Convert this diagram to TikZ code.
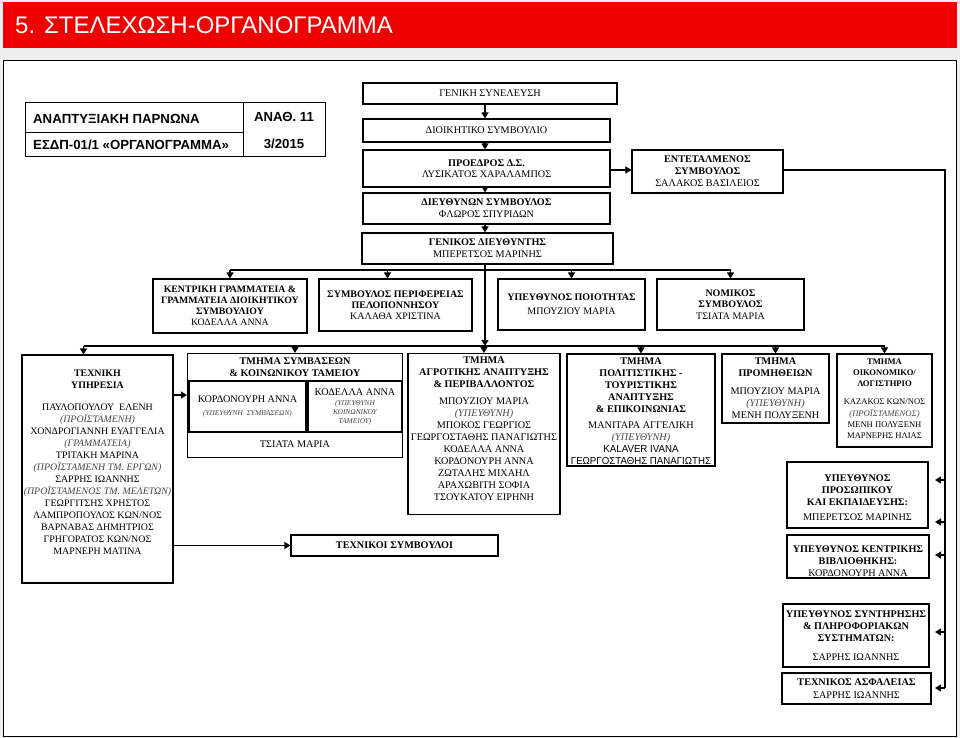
\documentclass[tikz,border=0pt]{standalone}
\usepackage{fontspec}
\setmainfont{Liberation Serif}
\setsansfont{Liberation Sans}
\usetikzlibrary{positioning,arrows.meta}

\definecolor{titlered}{RGB}{238,0,0}
\definecolor{stripgray}{RGB}{238,238,238}
\definecolor{rolegray}{RGB}{70,70,70}

\newcommand{\rl}[1]{{\itshape\color{rolegray}#1}}
\newcommand{\rlsmall}[1]{{\fontsize{7.4}{9}\selectfont\itshape\color{rolegray}#1}}
\newcommand{\nar}[1]{\scalebox{0.95}[1]{\sffamily #1}}

\begin{document}
\begin{tikzpicture}[x=1pt,y=-1pt,
  box/.style={draw,line width=1.1pt,fill=white,align=center,inner sep=0pt,
    font=\fontsize{10.2}{12}\selectfont},
  sz/.style 2 args={minimum width=#1pt,minimum height=#2pt},
  txt/.style={align=center,inner sep=0pt,font=\fontsize{10.2}{12}\selectfont},
  tabtext/.style={inner sep=0pt,font=\sffamily\bfseries\fontsize{13.2}{15}\selectfont},
  con/.style={line width=1.3pt},
  arr/.style={con,-{Triangle[length=6pt,width=7pt]}}]
\useasboundingbox (0,0) rectangle (960,738);
\fill[stripgray] (0,0) rectangle (960,738);
\fill[titlered] (3,2) rectangle (957,48);
\node[anchor=west,inner sep=0pt,text=white,font=\sffamily\fontsize{24}{28}\selectfont] (title) at (15,25) {5. ΣΤΕΛΕΧΩΣΗ-ΟΡΓΑΝΟΓΡΑΜΜΑ};
\draw[fill=white,line width=0.8pt] (3,60) rectangle (956,736);

% table top left
\draw[line width=1pt] (25,103) rectangle (325,157);
\draw[line width=1pt] (243,103) -- (243,157);
\draw[line width=1pt] (25,133) -- (243,133);
\node[tabtext,anchor=west] (tbname) at (33,119) {ΑΝΑΠΤΥΞΙΑΚΗ ΠΑΡΝΩΝΑ};
\node[tabtext] (tbref) at (284,117) {ΑΝΑΘ. 11};
\node[tabtext,anchor=west] (tbdoc) at (33,145) {ΕΣΔΠ-01/1 «ΟΡΓΑΝΟΓΡΑΜΜΑ»};
\node[tabtext] (tbdate) at (284,144) {3/2015};

% top chain
\node[box,sz={254}{21}] (gs) at (490,93.5) {ΓΕΝΙΚΗ ΣΥΝΕΛΕΥΣΗ};
\node[box,sz={247}{23}] (ds) at (486.5,130.5) {ΔΙΟΙΚΗΤΙΚΟ ΣΥΜΒΟΥΛΙΟ};
\node[box,sz={247}{37},font=\fontsize{10.2}{11.5}\selectfont] (pr) at (486.5,168.5) {\textbf{ΠΡΟΕΔΡΟΣ Δ.Σ.}\\ΛΥΣΙΚΑΤΟΣ ΧΑΡΑΛΑΜΠΟΣ};
\node[box,sz={247}{31}] (dn) at (486.5,208.5) {\textbf{ΔΙΕΥΘΥΝΩΝ ΣΥΜΒΟΥΛΟΣ}\\ΦΛΩΡΟΣ ΣΠΥΡΙΔΩΝ};
\node[box,sz={151}{43}] (et) at (707.5,171.5) {\textbf{ΕΝΤΕΤΑΛΜΕΝΟΣ}\\\textbf{ΣΥΜΒΟΥΛΟΣ}\\ΣΑΛΑΚΟΣ ΒΑΣΙΛΕΙΟΣ};
\node[box,sz={251}{31}] (gd) at (487.5,248.5) {\textbf{ΓΕΝΙΚΟΣ ΔΙΕΥΘΥΝΤΗΣ}\\ΜΠΕΡΕΤΣΟΣ ΜΑΡΙΝΗΣ};

% staff row
\node[box,sz={154}{54},font=\fontsize{9.8}{11}\selectfont] (kg) at (230,306) {\textbf{ΚΕΝΤΡΙΚΗ ΓΡΑΜΜΑΤΕΙΑ \&}\\\textbf{ΓΡΑΜΜΑΤΕΙΑ ΔΙΟΙΚΗΤΙΚΟΥ}\\\textbf{ΣΥΜΒΟΥΛΙΟΥ}\\ΚΟΔΕΛΛΑ ΑΝΝΑ};
\node[box,sz={153}{52},font=\fontsize{10}{11}\selectfont] (sp) at (395.5,305) {\textbf{ΣΥΜΒΟΥΛΟΣ ΠΕΡΙΦΕΡΕΙΑΣ}\\\textbf{ΠΕΛΟΠΟΝΝΗΣΟΥ}\\ΚΑΛΑΘΑ ΧΡΙΣΤΙΝΑ};
\node[box,sz={147}{51},font=\fontsize{10}{14}\selectfont] (yp) at (571.5,304.5) {\textbf{ΥΠΕΥΘΥΝΟΣ ΠΟΙΟΤΗΤΑΣ}\\ΜΠΟΥΖΙΟΥ ΜΑΡΙΑ};
\node[box,sz={147}{51},font=\fontsize{10}{11.5}\selectfont] (ns) at (730.5,304.5) {\textbf{ΝΟΜΙΚΟΣ}\\\textbf{ΣΥΜΒΟΥΛΟΣ}\\ΤΣΙΑΤΑ ΜΑΡΙΑ};

% departments
\node[box,sz={151}{228}] (tx) at (97.5,469) {};
\node[txt,below=15pt of tx.north,font=\fontsize{9.9}{12}\selectfont] (tx-txt) {\textbf{ΤΕΧΝΙΚΗ}\\\textbf{ΥΠΗΡΕΣΙΑ}\\[10pt]ΠΑΥΛΟΠΟΥΛΟΥ~~ΕΛΕΝΗ\\\rl{(ΠΡΟΪΣΤΑΜΕΝΗ)}\\ΧΟΝΔΡΟΓΙΑΝΝΗ ΕΥΑΓΓΕΛΙΑ\\\rl{(ΓΡΑΜΜΑΤΕΙΑ)}\\ΤΡΙΤΑΚΗ ΜΑΡΙΝΑ\\\rl{(ΠΡΟΪΣΤΑΜΕΝΗ ΤΜ. ΕΡΓΩΝ)}\\ΣΑΡΡΗΣ ΙΩΑΝΝΗΣ\\\rl{(ΠΡΟΪΣΤΑΜΕΝΟΣ ΤΜ. ΜΕΛΕΤΩΝ)}\\ΓΕΩΡΓΙΤΣΗΣ ΧΡΗΣΤΟΣ\\ΛΑΜΠΡΟΠΟΥΛΟΣ ΚΩΝ/ΝΟΣ\\ΒΑΡΝΑΒΑΣ ΔΗΜΗΤΡΙΟΣ\\ΓΡΗΓΟΡΑΤΟΣ ΚΩΝ/ΝΟΣ\\ΜΑΡΝΕΡΗ ΜΑΤΙΝΑ};

\node[box,sz={215}{104}] (sm) at (295,405.5) {};
\node[txt,below=4.5pt of sm.north] (sm-txt) {\textbf{ΤΜΗΜΑ ΣΥΜΒΑΣΕΩΝ}\\\textbf{\& ΚΟΙΝΩΝΙΚΟΥ ΤΑΜΕΙΟΥ}};
\node[box,sz={117}{51}] (sm-a) at (247.5,406.5) {ΚΟΡΔΟΝΟΥΡΗ ΑΝΝΑ\\[1pt]\rlsmall{(ΥΠΕΥΘΥΝΗ~~ΣΥΜΒΑΣΕΩΝ)}};
\node[box,sz={94}{51}] (sm-b) at (355,406.5) {ΚΟΔΕΛΛΑ ΑΝΝΑ\\[-2pt]\rlsmall{(ΥΠΕΥΘΥΝΗ}\\[-3pt]\rlsmall{ΚΟΙΝΩΝΙΚΟΥ}\\[-3pt]\rlsmall{ΤΑΜΕΙΟΥ)}};
\node[txt] (sm-ts) at (295,444) {ΤΣΙΑΤΑ ΜΑΡΙΑ};

\node[box,sz={207}{21}] (ts) at (394.5,545.5) {\textbf{ΤΕΧΝΙΚΟΙ ΣΥΜΒΟΥΛΟΙ}};

\node[box,sz={152}{161}] (ag) at (484,434) {};
\node[txt,below=4pt of ag.north] (ag-txt) {\textbf{ΤΜΗΜΑ}\\\textbf{ΑΓΡΟΤΙΚΗΣ ΑΝΑΠΤΥΞΗΣ}\\\textbf{\& ΠΕΡΙΒΑΛΛΟΝΤΟΣ}\\[5pt]ΜΠΟΥΖΙΟΥ ΜΑΡΙΑ\\\rl{(ΥΠΕΥΘΥΝΗ)}\\ΜΠΟΚΟΣ ΓΕΩΡΓΙΟΣ\\ΓΕΩΡΓΟΣΤΑΘΗΣ ΠΑΝΑΓΙΩΤΗΣ\\ΚΟΔΕΛΛΑ ΑΝΝΑ\\ΚΟΡΔΟΝΟΥΡΗ ΑΝΝΑ\\ΖΩΤΑΛΗΣ ΜΙΧΑΗΛ\\ΑΡΑΧΩΒΙΤΗ ΣΟΦΙΑ\\ΤΣΟΥΚΑΤΟΥ ΕΙΡΗΝΗ};

\node[box,sz={148}{112}] (po) at (641,410) {};
\node[txt,below=4.5pt of po.north] (po-txt) {\textbf{ΤΜΗΜΑ}\\\textbf{ΠΟΛΙΤΙΣΤΙΚΗΣ -}\\\textbf{ΤΟΥΡΙΣΤΙΚΗΣ}\\\textbf{ΑΝΑΠΤΥΞΗΣ}\\\textbf{\& ΕΠΙΚΟΙΝΩΝΙΑΣ}\\[4pt]ΜΑΝΙΤΑΡΑ ΑΓΓΕΛΙΚΗ\\\rl{(ΥΠΕΥΘΥΝΗ)}\\\nar{KALAVER IVANA}\\\nar{ΓΕΩΡΓΟΣΤΑΘΗΣ ΠΑΝΑΓΙΩΤΗΣ}};

\node[box,sz={107}{69}] (pm) at (775.5,388.5) {};
\node[txt,below=4.5pt of pm.north] (pm-txt) {\textbf{ΤΜΗΜΑ}\\\textbf{ΠΡΟΜΗΘΕΙΩΝ}\\[6pt]ΜΠΟΥΖΙΟΥ ΜΑΡΙΑ\\\rl{(ΥΠΕΥΘΥΝΗ)}\\ΜΕΝΗ ΠΟΛΥΞΕΝΗ};

\node[box,sz={95}{93}] (oi) at (884.5,400.5) {};
\node[txt,below=5pt of oi.north,font=\fontsize{8.6}{11.2}\selectfont] (oi-txt) {\textbf{ΤΜΗΜΑ}\\\textbf{ΟΙΚΟΝΟΜΙΚΟ/}\\\textbf{ΛΟΓΙΣΤΗΡΙΟ}\\[7pt]ΚΑΖΑΚΟΣ ΚΩΝ/ΝΟΣ\\\rl{(ΠΡΟΪΣΤΑΜΕΝΟΣ)}\\ΜΕΝΗ ΠΟΛΥΞΕΝΗ\\ΜΑΡΝΕΡΗΣ ΗΛΙΑΣ};

% responsible persons, right
\node[box,sz={141}{66}] (pe) at (857.5,495) {};
\node[txt,below=13pt of pe.north] (pe-txt) {\textbf{ΥΠΕΥΘΥΝΟΣ}\\\textbf{ΠΡΟΣΩΠΙΚΟΥ}\\\textbf{ΚΑΙ ΕΚΠΑΙΔΕΥΣΗΣ:}\\[3pt]ΜΠΕΡΕΤΣΟΣ ΜΑΡΙΝΗΣ};
\node[box,sz={142}{43}] (vb) at (858,556.5) {};
\node[txt,below=11.5pt of vb.north] (vb-txt) {\textbf{ΥΠΕΥΘΥΝΟΣ ΚΕΝΤΡΙΚΗΣ}\\\textbf{ΒΙΒΛΙΟΘΗΚΗΣ:}\\ΚΟΡΔΟΝΟΥΡΗ ΑΝΝΑ};
\node[box,sz={146}{63}] (sy) at (856,635.5) {};
\node[txt,below=7.5pt of sy.north] (sy-txt) {\textbf{ΥΠΕΥΘΥΝΟΣ ΣΥΝΤΗΡΗΣΗΣ}\\\textbf{\& ΠΛΗΡΟΦΟΡΙΑΚΩΝ}\\\textbf{ΣΥΣΤΗΜΑΤΩΝ:}\\[7pt]ΣΑΡΡΗΣ ΙΩΑΝΝΗΣ};
\node[box,sz={149}{31},font=\fontsize{10.2}{13}\selectfont] (as) at (856.5,688.5) {\textbf{ΤΕΧΝΙΚΟΣ ΑΣΦΑΛΕΙΑΣ}\\ΣΑΡΡΗΣ ΙΩΑΝΝΗΣ};

% connectors
\coordinate (spine) at (485,0);
\coordinate (bus2) at (0,270);
\coordinate (bus3) at (0,346);
\coordinate (rbus) at (945,0);
\coordinate (tx-sm) at (0,395);
\draw[arr] (gs.south -| spine) -- (ds.north -| spine);
\draw[arr] (ds.south -| spine) -- (pr.north -| spine);
\draw[arr] (pr.south -| spine) -- (dn.north -| spine);
\draw[arr] (dn.south -| spine) -- (gd.north -| spine);
\draw[arr] (pr.east |- 0,170) -- (et.west |- 0,170);
\draw[arr] (gd.south -| spine) -- (spine |- bus3);
\draw[con] (kg.north |- bus2) -- (ns.north |- bus2);
\foreach \b in {kg,yp,ns}
  \draw[arr] (\b.north |- bus2) -- (\b.north);
\draw[arr] ([xshift=-8pt]sp.north |- bus2) -- ([xshift=-8pt]sp.north);
\draw[con] ([xshift=-14pt]tx.north |- bus3) -- (oi.north |- bus3);
\draw[arr] ([xshift=-14pt]tx.north |- bus3) -- ([xshift=-14pt]tx.north);
\foreach \b in {sm,ag,po,pm,oi}
  \draw[arr] (\b.north |- bus3) -- (\b.north);
\draw[arr] (tx.east |- tx-sm) -- (sm.west |- tx-sm);
\draw[arr] (tx.east |- ts.west) -- (ts.west);
\draw[con] (et.east |- 0,170) -| (rbus |- 0,688);
\foreach \n/\y in {a/480,b/522,c/555,d/632,e/688}
  \coordinate (tip-\n) at (935,\y);
\foreach \n in {a,b,c,d,e}
  \draw[arr] (rbus |- tip-\n) -- (tip-\n);
\end{tikzpicture}
\end{document}
